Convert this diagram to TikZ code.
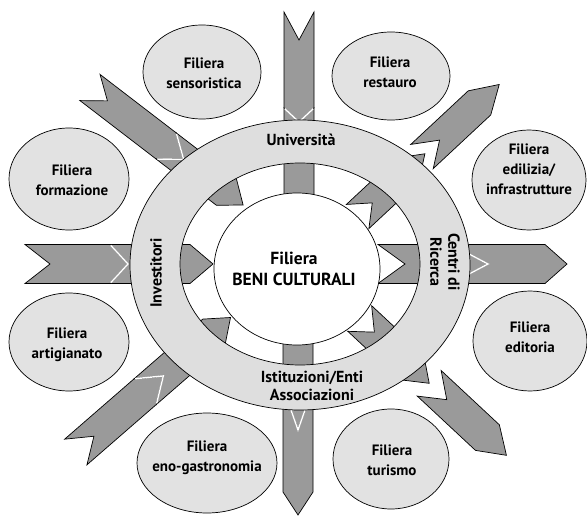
\documentclass[tikz,border=0pt]{standalone}
\usepackage{fontspec}
\setmainfont{PT Sans}
\usetikzlibrary{shapes.geometric}
\definecolor{arrowgray}{HTML}{9A9A9A}
\definecolor{ringgray}{HTML}{DEDEDE}
\definecolor{fillgray}{HTML}{E2E2E2}
\newcommand{\chev}[5]{\filldraw[arrowpiece] (#1,-#5) -- (#3,-#5) -- ({#3+#4},0) -- (#3,#5) -- (#1,#5) -- ({#1+#2},0) -- cycle;}
\newcommand{\joint}[3]{\draw[jointline] (#1,-#3) -- ({#1+#2},0) -- (#1,#3);}
\begin{document}
\begin{tikzpicture}[x=1pt,y=-1pt,
  arrowpiece/.style={fill=arrowgray,draw=black,line width=0.7pt,line join=miter},
  jointline/.style={draw=white,line width=1.4pt,shorten <=1pt,shorten >=1pt},
  outl/.style={draw=black,line width=0.7pt},
  filell/.style={ellipse,draw=black,line width=0.7pt,fill=fillgray,inner sep=0pt},
  lab/.style={font=\bfseries\fontsize{15}{20}\selectfont,align=center,inner sep=0pt},
  ringlab/.style={font=\bfseries\fontsize{16}{18}\selectfont,align=center,inner sep=0pt},
  corelab/.style={font=\bfseries\fontsize{17.5}{21}\selectfont,align=center,inner sep=0pt}]
\useasboundingbox (0,0) rectangle (587,516);
\fill[white] (0,0) rectangle (587,516);
% ---- arrows ----
% top (inward)
\begin{scope}[shift={(299,0)},rotate=-90]
 \chev{12}{28}{108}{14}{15}
 \chev{108}{14}{200}{15}{15}
 \joint{108}{14}{15}
\end{scope}
% top-left (inward)
\begin{scope}[shift={(90,87.5)},rotate=-37.5]
 \chev{0}{22}{96}{22}{16.5}
 \chev{96}{22}{172}{21}{16.5}
 \joint{96}{22}{16.5}
\end{scope}
% left (inward)
\begin{scope}[shift={(0,264)}]
 \chev{25}{25}{110}{18}{19.5}
 \chev{110}{18}{190}{23}{19.5}
 \joint{110}{18}{19.5}
\end{scope}
% bottom-left (inward)
\begin{scope}[shift={(75.8,452)},rotate=41]
 \chev{0}{24}{92}{24}{17}
 \chev{92}{24}{183}{22}{17}
 \joint{92}{24}{17}
\end{scope}
% bottom (outward)
\begin{scope}[shift={(298,0)},rotate=-90]
 \chev{322}{15}{387}{43}{15}
 \chev{387}{43}{492}{23}{15}
 \joint{387}{43}{15}
\end{scope}
% bottom-right (outward)
\begin{scope}[shift={(429.2,383.3)},rotate=-43]
 \chev{-95}{20}{-24}{24}{17.5}
 \chev{0}{24}{79.6}{26}{17.5}
\end{scope}
% right (outward)
\begin{scope}[shift={(0,264)}]
 \chev{378}{27}{451}{37}{19.5}
 \chev{451}{37}{545}{22}{19.5}
 \joint{451}{37}{19.5}
\end{scope}
% top-right (outward)
\begin{scope}[shift={(422,156.5)},rotate=43]
 \chev{-88}{20}{-20}{24}{16.5}
 \chev{0}{24}{78.6}{27}{16.5}
\end{scope}
% ---- ring ----
\fill[ringgray,even odd rule] (300,265) ellipse [x radius=170pt,y radius=145pt]
  (300,264) ellipse [x radius=120pt,y radius=101pt];
\draw[outl] (300,265) ellipse [x radius=170pt,y radius=145pt];
\draw[outl] (300,264) ellipse [x radius=120pt,y radius=101pt];
% ---- core ----
\node[ellipse,draw=black,line width=0.7pt,fill=white,inner sep=0pt,minimum width=166pt,minimum height=152pt] (core) at (297,269) {};
\node[corelab] (coretxt) at (294,269) {Filiera\\BENI CULTURALI};
% ---- ring labels ----
\node[ringlab] (univ) at (301,140) {Università};
\node[ringlab] (istit) at (312,386) {Istituzioni/Enti\\Associazioni};
\node[ringlab,rotate=90] (invest) at (156,273) {Investitori};
\node[ringlab,rotate=-90] (centri) at (445,262) {Centri di\\Ricerca};
% ---- filiere ----
\node[filell,minimum width=118pt,minimum height=94pt] (e1) at (202,72) {};
\node[filell,minimum width=118pt,minimum height=88pt] (e2) at (391,76) {};
\node[filell,minimum width=114pt,minimum height=100pt] (e3) at (529,180) {};
\node[filell,minimum width=120pt,minimum height=102pt] (e4) at (69,179) {};
\node[filell,minimum width=120pt,minimum height=98pt] (e5) at (69,342) {};
\node[filell,minimum width=114pt,minimum height=100pt] (e6) at (530,341) {};
\node[filell,minimum width=140pt,minimum height=100pt] (e7) at (207,463) {};
\node[filell,minimum width=116pt,minimum height=100pt] (e8) at (391,459) {};
\node[lab] (t1) at (204,73.5) {Filiera\\sensoristica};
\node[lab] (t2) at (390,72.5) {Filiera\\restauro};
\node[lab] (t3) at (529,169) {Filiera\\edilizia/\\infrastrutture};
\node[lab] (t4) at (72,180) {Filiera\\formazione};
\node[lab] (t5) at (67,344.5) {Filiera\\artigianato};
\node[lab] (t6) at (530,337) {Filiera\\editoria};
\node[lab] (t7) at (207,457.5) {Filiera\\eno-gastronomia};
\node[lab] (t8) at (392,460) {Filiera\\turismo};
\end{tikzpicture}
\end{document}
